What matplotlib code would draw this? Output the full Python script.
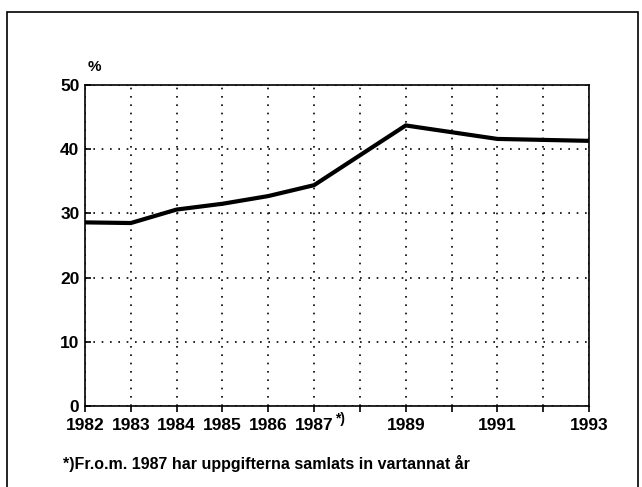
import matplotlib
matplotlib.use("Agg")
import matplotlib.pyplot as plt
from matplotlib.patches import Rectangle

plt.rcParams['font.family'] = ['Liberation Sans', 'DejaVu Sans']
plt.rcParams['font.weight'] = 'bold'

# data (survey every second year from 1987)
years = [1982, 1983, 1984, 1985, 1986, 1987, 1989, 1991, 1993]
share = [28.6, 28.5, 30.6, 31.5, 32.7, 34.4, 43.7, 41.6, 41.3]
tick_years = list(range(1982, 1994))
tick_labels = ['1982', '1983', '1984', '1985', '1986', '1987', '', '1989', '', '1991', '', '1993']
footnote = "*)Fr.o.m. 1987 har uppgifterna samlats in vartannat år"

W, H = 642, 487
fig = plt.figure(figsize=(W / 100, H / 100), dpi=100)
# axes box in pixels: x 85..589, y 85..406
ax = fig.add_axes([85 / W, 1 - 406 / H, (589 - 85) / W, (406 - 85) / H])

ax.plot(years, share, color='black', linewidth=3.0, solid_joinstyle='miter', zorder=3)

ax.set_xlim(1982, 1993)
ax.set_ylim(0, 50)
ax.set_xticks(tick_years)
ax.set_xticklabels(tick_labels, fontsize=12.5, fontweight='bold')
ax.set_yticks([0, 10, 20, 30, 40, 50])
ax.set_yticklabels(['0', '10', '20', '30', '40', '50'], fontsize=12.5, fontweight='bold')
ax.tick_params(axis='x', direction='out', length=4, width=1.2, color='black', pad=5)
ax.tick_params(axis='y', direction='in', length=4, width=1.2, color='black', pad=4)
ax.grid(True, color='black', linestyle=(0, (1, 4)), linewidth=1.2)
for s in ax.spines.values():
    s.set_linewidth(1.2)

# footnote marker next to the 1987 label
ax.text(1987.45, -0.9, '*)', fontsize=10, fontweight='bold', ha='left', va='top')
ax.text(1982.05, 52.8, '%', fontsize=11, fontweight='bold', ha='left', va='center')

fig.text(63 / W, 1 - 463 / H, footnote, fontsize=11.5, fontweight='bold', ha='left', va='center')

# outer frame
fig.patches.append(Rectangle((7 / W, -0.01), 631 / W, 1 - 12 / H + 0.01,
                             transform=fig.transFigure, fill=False,
                             edgecolor='black', linewidth=1.2))

fig.savefig('out.png', dpi=100)
